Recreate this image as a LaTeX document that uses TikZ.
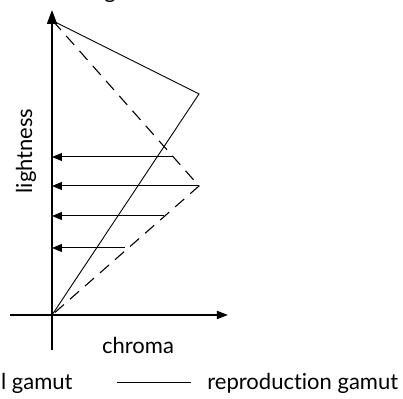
\documentclass[tikz,border=0pt]{standalone}
\usepackage{fontspec}
\setmainfont{Lato}[Ligatures=NoCommon]
\usetikzlibrary{arrows.meta}

\begin{document}
\begin{tikzpicture}[x=0.5pt,y=-0.5pt,>={Triangle[length=5pt,width=4pt]},font=\fontsize{11}{13}\selectfont,
  axis/.style={line width=0.8pt},
  gamut/.style={line width=0.45pt},
  origgamut/.style={line width=0.55pt,dash pattern=on 6pt off 4pt},
  mapping/.style={line width=0.5pt,->}]
\useasboundingbox (0,0) rectangle (403,399);
\clip (0,0) rectangle (403,399);
% axes
\coordinate (ybot) at (52,350);
\coordinate (ytop) at (52,10);
\coordinate (xleft) at (10,315);
\coordinate (xright) at (228,315);
\draw[axis,-{Triangle[length=7pt,width=5pt]}] (ybot) -- (ytop);
\draw[axis,-{Triangle[length=5.5pt,width=4pt]}] (xleft) -- (xright);
% gamut boundaries
\coordinate (white) at (53,21);
\coordinate (black) at (52,315);
\coordinate (cusprepro) at (199,94);
\coordinate (cusporig) at (199,186);
\draw[gamut] (white) -- (cusprepro) -- (black);
\draw[origgamut] (white) -- (cusporig) -- (black);
% mapping arrows
\coordinate (s1) at (173,157);
\coordinate (s2) at (199,186);
\coordinate (s3) at (164,216);
\coordinate (s4) at (125,248);
\coordinate (a1) at (52,157);
\coordinate (a2) at (52,186);
\coordinate (a3) at (52,216);
\coordinate (a4) at (52,248);
\draw[mapping] (s1) -- (a1);
\draw[mapping] (s2) -- (a2);
\draw[mapping] (s3) -- (a3);
\draw[mapping] (s4) -- (a4);
% labels
\node[rotate=90] (lightness) at (26,151) {lightness};
\node (chroma) at (138,345) {chroma};
\node[anchor=base,inner sep=0pt] (title) at (110,-1) {g};
% legend
\node[anchor=base east,inner sep=0pt] (origlabel) at (73,390) {original gamut};
\coordinate (leg1) at (117,382);
\coordinate (leg2) at (191,382);
\draw[gamut] (leg1) -- (leg2);
\node[anchor=base west,inner sep=0pt] (reprolabel) at (207,390) {reproduction gamut};
\end{tikzpicture}
\end{document}
